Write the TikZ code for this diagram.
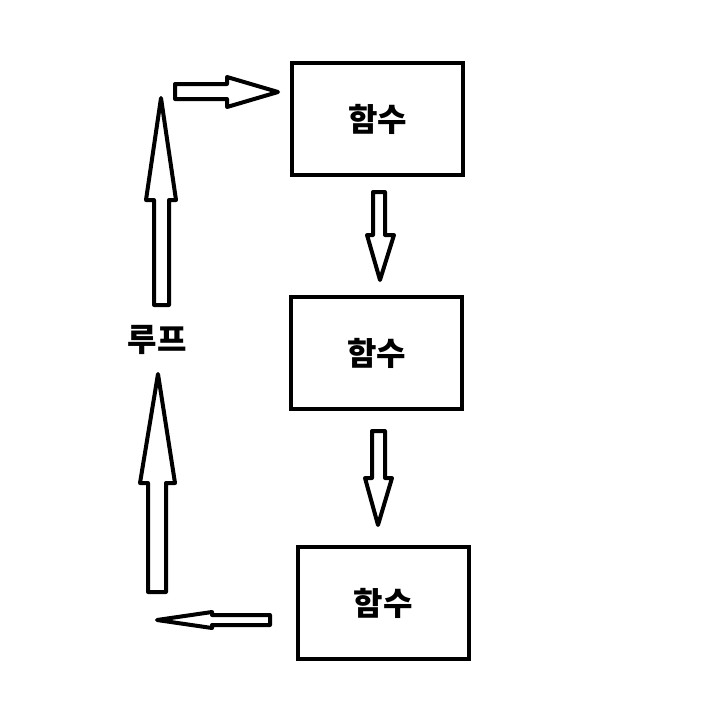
\documentclass[tikz,border=0pt]{standalone}
\usepackage{fontspec}
\newfontfamily\kr{Noto Sans CJK KR}
\usetikzlibrary{positioning}
\tikzset{
  every picture/.style={line width=4pt, x=1pt, y=-1pt},
  func/.style={draw=black, line width=4pt, minimum width=171pt, minimum height=112pt, inner sep=0pt, font=\kr\bfseries\fontsize{32}{36}\selectfont},
  tag/.style={font=\kr\bfseries\fontsize{32}{36}\selectfont, inner sep=0pt},
  blk/.style={draw=black, fill=white, line width=4pt, line join=round},
}
\begin{document}
\begin{tikzpicture}
  \useasboundingbox (0,0) rectangle (704,726);
  % the three boxes
  \node[func] (f1) at (377.5,119) {함수};
  \node[func] (f2) at (376.5,353) {함수};
  \node[func] (f3) at (383,603) {함수};
  \node[tag] (loop) at (157,340) {루프};
  % block arrows
  \draw[blk] (154,305) -- (154,200) -- (146,200) -- (161,98) -- (176,200) -- (169,200) -- (169,305) -- cycle;
  \draw[blk] (148,592) -- (148,483) -- (140,483) -- (158,374) -- (175,483) -- (166,483) -- (166,592) -- cycle;
  \draw[blk] (175,84) -- (227,84) -- (227,77) -- (278,92) -- (227,107) -- (227,99) -- (175,99) -- cycle;
  \draw[blk] (270,615) -- (212,615) -- (212,612) -- (157,620) -- (212,628) -- (212,625) -- (270,625) -- cycle;
  \draw[blk] (373,192) -- (385,192) -- (385,235) -- (394,235) -- (380,280) -- (367,235) -- (373,235) -- cycle;
  \draw[blk] (372,431) -- (385,431) -- (385,478) -- (392,478) -- (378,525) -- (365,478) -- (372,478) -- cycle;
\end{tikzpicture}
\end{document}
